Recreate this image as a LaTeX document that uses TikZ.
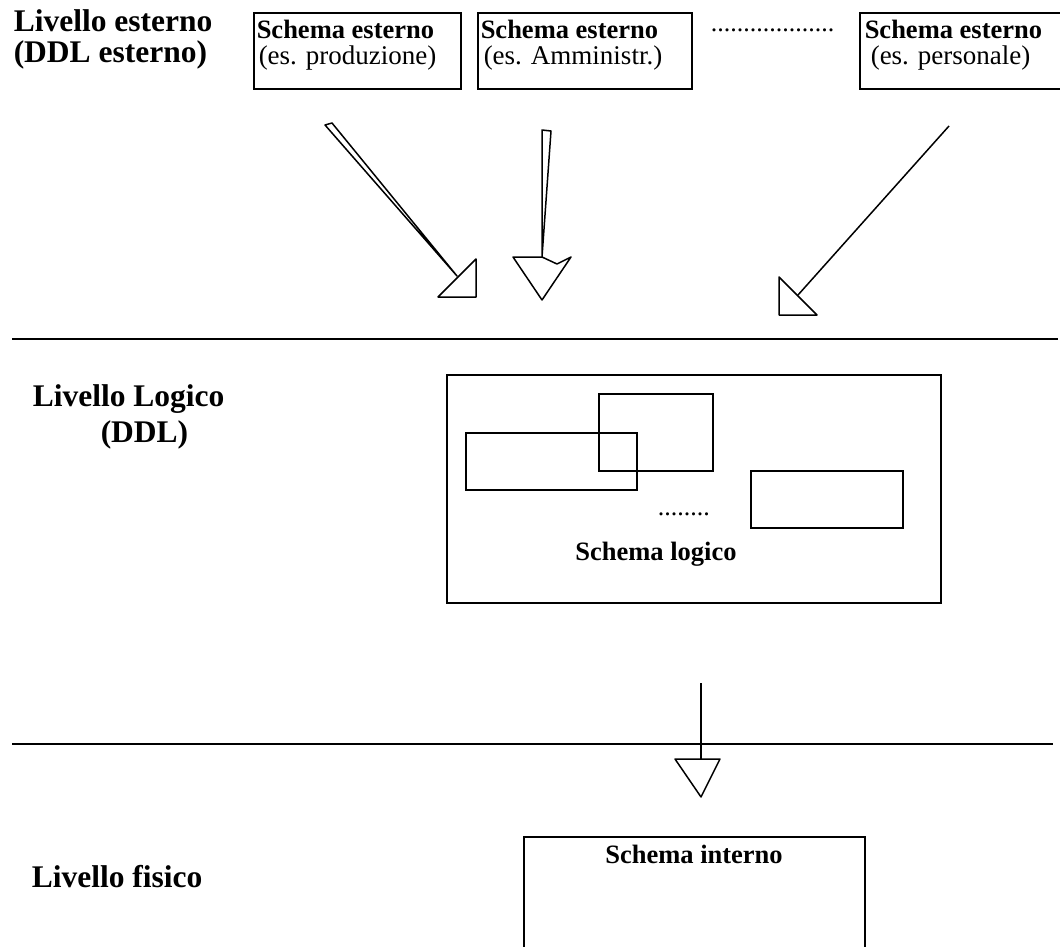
\documentclass[tikz,border=0pt]{standalone}
\usepackage{fontspec}
\setmainfont{Liberation Serif}
\begin{document}
\begin{tikzpicture}[x=1pt,y=-1pt,line width=1.5pt,line join=miter,
  lbl/.style={font=\fontsize{31.5}{36}\selectfont\bfseries,anchor=base west,inner sep=0pt},
  btxt/.style={font=\fontsize{26.5}{30}\selectfont\bfseries,anchor=base west,inner sep=0pt},
  rtxt/.style={font=\fontsize{27}{30}\selectfont,anchor=base west,inner sep=0pt},
  frame/.style={draw,line width=1.5pt,anchor=north west,inner sep=0pt,outer sep=0pt},
  thinarrow/.style={line width=1.5pt,line join=round},
  sepline/.style={line width=2pt}]
\useasboundingbox (0,0) rectangle (1060,947);
\clip (0,0) rectangle (1060,947);

% level labels
\node[lbl] (l1a) at (13,32) {Livello esterno};
\node[lbl] (l1b) at (13,63) {(DDL esterno)};
\node[lbl] (l2a) at (32,406) {Livello Logico};
\node[lbl] (l2b) at (100,442) {(DDL)};
\node[lbl] (l3) at (31,887) {Livello fisico};

% external schema boxes
\node[frame,minimum width=207pt,minimum height=76pt] (e1) at (254,13) {};
\node[frame,minimum width=214pt,minimum height=76pt] (e2) at (478,13) {};
\node[frame,minimum width=220pt,minimum height=76pt] (e3) at (860,13) {};
\node[btxt] (e1t) at (256,39) {Schema esterno};
\node[rtxt] (e1s) at (258,65) {(es. produzione)};
\node[btxt] (e2t) at (480,39) {Schema esterno};
\node[rtxt] (e2s) at (483,65) {(es. Amministr.)};
\node[btxt] (e3t) at (864,39) {Schema esterno};
\node[rtxt] (e3s) at (870,65) {(es. personale)};
\node[font=\fontsize{26}{30}\selectfont,anchor=base west,inner sep=0pt] (edots) at (710,32) {...................};

% arrows from external to logical
\coordinate (a1t1) at (325,125); \coordinate (a1t2) at (332,123); \coordinate (a1b) at (457,276);
\draw[thinarrow] (a1t1) -- (a1t2) -- (a1b) -- cycle;
\coordinate (h1a) at (438,297); \coordinate (h1b) at (476,259); \coordinate (h1c) at (476,297);
\draw[thinarrow] (h1a) -- (h1b) -- (h1c) -- cycle;

\coordinate (a2t1) at (542,130); \coordinate (a2t2) at (551,131); \coordinate (a2b) at (542,257);
\draw[thinarrow] (a2t1) -- (a2t2) -- (a2b) -- cycle;
\coordinate (h2a) at (513,257); \coordinate (h2b) at (557,264); \coordinate (h2c) at (571,257); \coordinate (h2tip) at (542,300);
\draw[thinarrow] (h2a) -- (a2b) -- (h2b) -- (h2c) -- (h2tip) -- cycle;

\coordinate (a3t) at (949,126); \coordinate (a3b) at (798,295);
\draw[thinarrow] (a3t) -- (a3b);
\coordinate (h3a) at (779,277); \coordinate (h3b) at (779,315); \coordinate (h3c) at (817,315);
\draw[thinarrow] (h3a) -- (h3b) -- (h3c) -- cycle;

% separators
\coordinate (s1l) at (12,339); \coordinate (s1r) at (1058,339);
\draw[sepline] (s1l) -- (s1r);
\coordinate (s2l) at (12,744); \coordinate (s2r) at (1053,744);
\draw[sepline] (s2l) -- (s2r);

% logical schema
\node[frame,minimum width=494pt,minimum height=228pt] (lb) at (447,375) {};
\node[frame,minimum width=171pt,minimum height=57pt] (ra) at (466,433) {};
\node[frame,minimum width=114pt,minimum height=77pt] (rb) at (599,394) {};
\node[frame,minimum width=152pt,minimum height=57pt] (rc) at (751,471) {};
\node[font=\fontsize{26}{30}\selectfont,anchor=base west,inner sep=0pt] (ldots) at (657,515) {........};
\node[btxt,anchor=base] (lt) at (656,560) {Schema logico};

% arrow logical to physical
\coordinate (v1) at (701,683); \coordinate (v2) at (701,759);
\draw[sepline] (v1) -- (v2);
\coordinate (h4a) at (675,759); \coordinate (h4b) at (720,759); \coordinate (h4tip) at (701,797);
\draw[thinarrow] (h4a) -- (h4b) -- (h4tip) -- cycle;

% physical schema
\node[frame,minimum width=341pt,minimum height=130pt] (pb) at (524,837) {};
\node[btxt,anchor=base] (pt) at (694,863) {Schema interno};
\end{tikzpicture}
\end{document}
